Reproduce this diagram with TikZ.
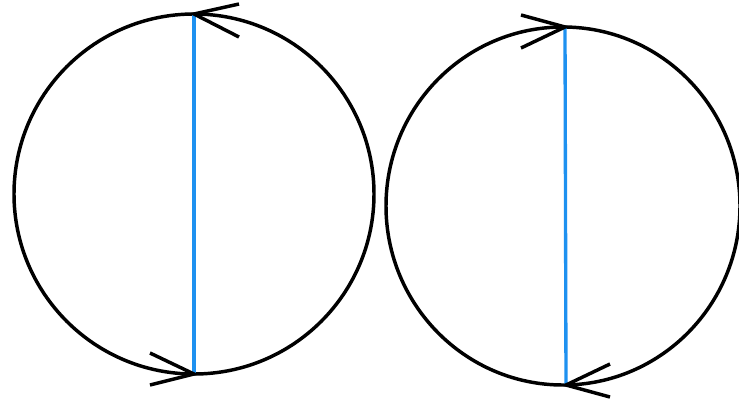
\documentclass[tikz,border=0pt]{standalone}
\definecolor{chordblue}{RGB}{30,145,240}
\begin{document}
\begin{tikzpicture}[x=0.75pt,y=-0.75pt,
  ring/.style={draw=black,line width=2.6pt},
  chord/.style={draw=chordblue,line width=2.5pt},
  chevron/.style={draw=black,line width=2.6pt,line join=miter}]
\useasboundingbox (0,0) rectangle (739,404);
% left circle
\coordinate (lc) at (194,194);
\coordinate (lt) at (194,14);
\coordinate (lb) at (194,374);
\draw[ring] (lc) circle[radius=180];
\draw[chord] (lt) -- (lb);
\draw[chevron] (239,4) -- (lt) -- (239,37);
\draw[chevron] (150,353) -- (lb) -- (150,385);
% right circle
\coordinate (rc) at (563,206);
\coordinate (rt) at (565,27);
\coordinate (rb) at (566,385);
\draw[ring] (rc) circle[x radius=177, y radius=179];
\draw[chord] (rt) -- (rb);
\draw[chevron] (521,15) -- (rt) -- (521,48);
\draw[chevron] (610,364) -- (rb) -- (610,397);
\end{tikzpicture}
\end{document}
